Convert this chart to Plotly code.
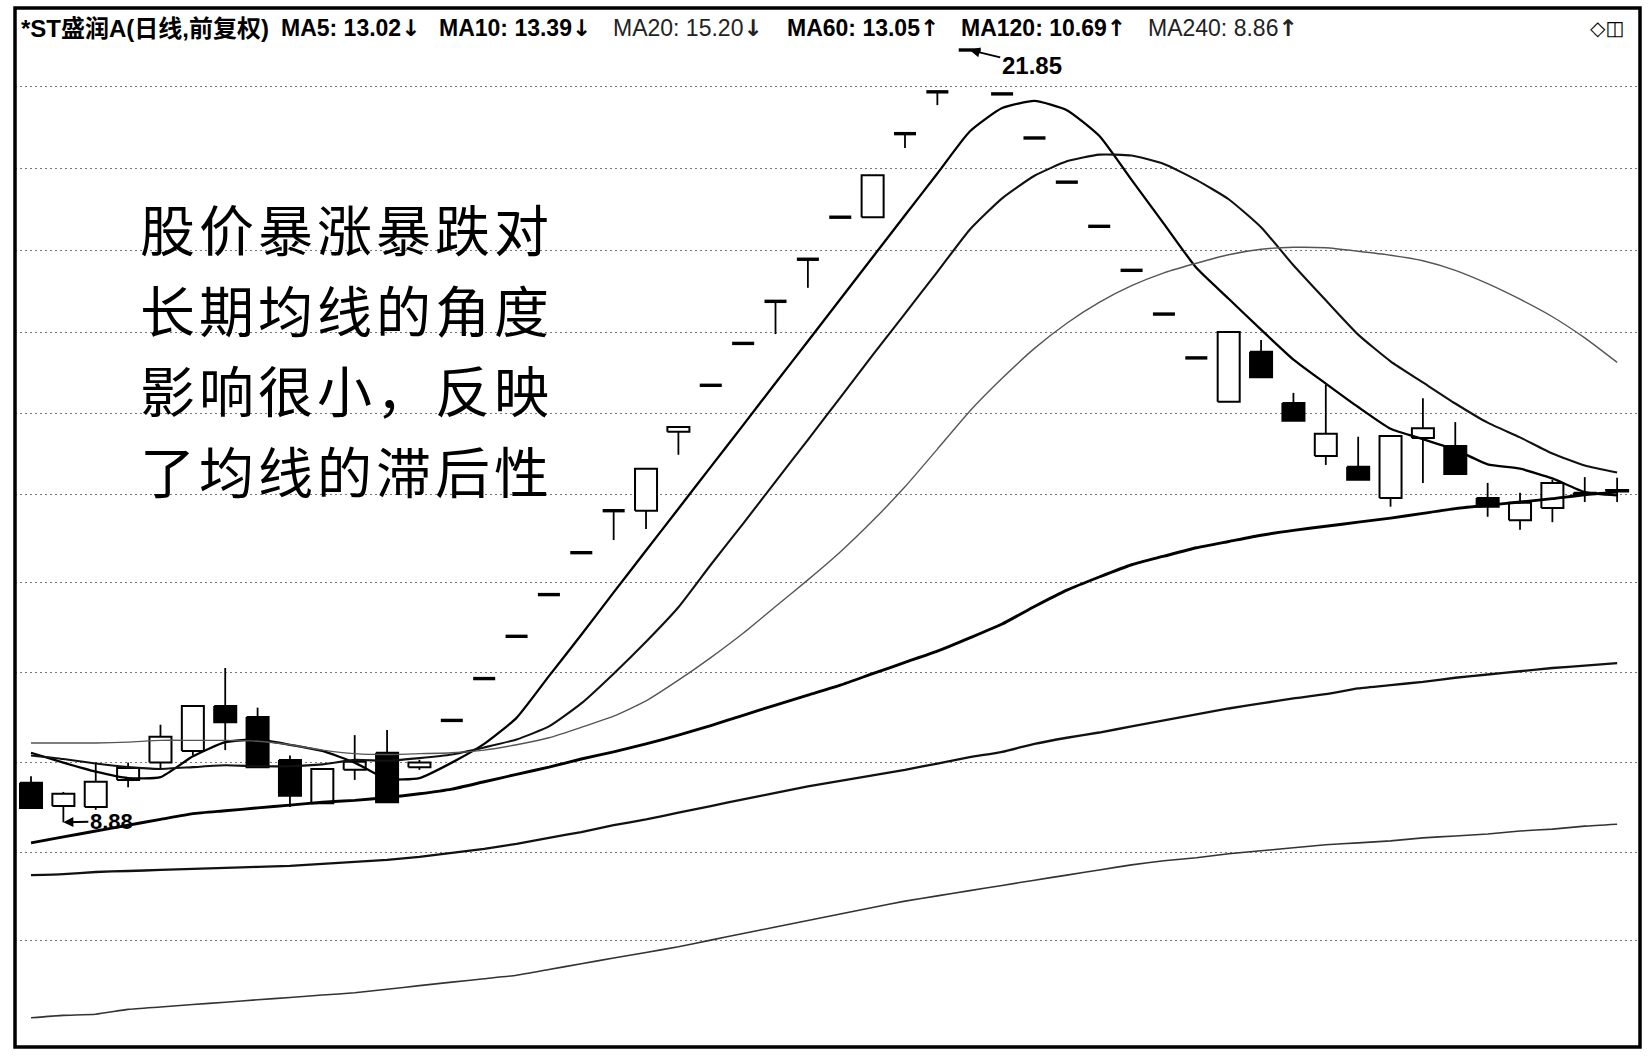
import math
import plotly.graph_objects as go

# ---------------- data ----------------
DAYS = list(range(50))

OPEN = [9.30, 9.05, 9.04, 9.33, 9.52, 9.65, 10.17, 10.04, 9.55, 9.08,
        9.44, 9.63, 9.47, 10.00, 10.50, 11.03, 11.58, 12.16, 12.77, 12.77,
        14.00, 14.78, 15.52, 16.30, 17.12, 17.98, 17.98, 19.82, 20.81, 21.85,
        20.76, 19.72, 18.73, 17.79, 16.90, 16.06, 15.26, 14.50, 15.37, 14.48,
        13.61, 13.44, 12.96, 13.90, 13.77, 12.96, 12.63, 12.81, 13.04, 13.06]
HIGH = [9.37, 9.20, 9.52, 9.52, 9.95, 10.17, 10.63, 10.15, 9.60, 9.45,
        9.83, 9.89, 9.55, 10.00, 10.50, 11.03, 11.58, 12.16, 12.77, 13.41,
        14.08, 14.78, 15.52, 16.30, 17.12, 17.98, 18.88, 19.82, 20.81, 21.85,
        20.76, 19.72, 18.73, 17.79, 16.90, 16.06, 15.26, 15.73, 15.58, 14.65,
        14.79, 13.92, 13.93, 14.56, 14.16, 13.19, 13.04, 13.24, 13.28, 13.27]
LOW = [9.02, 8.88, 9.01, 9.25, 9.46, 9.60, 9.66, 9.47, 9.04, 9.08,
       9.33, 9.09, 9.44, 10.00, 10.50, 11.03, 11.58, 12.16, 12.34, 12.50,
       13.63, 14.78, 15.52, 15.69, 16.56, 17.98, 17.98, 19.49, 20.49, 21.85,
       20.76, 19.72, 18.73, 17.79, 16.90, 16.06, 15.26, 14.50, 14.92, 14.18,
       13.47, 13.24, 12.83, 13.19, 13.33, 12.68, 12.49, 12.60, 12.90, 12.90]
CLOSE = [9.03, 9.18, 9.31, 9.46, 9.81, 10.17, 9.98, 9.47, 9.16, 9.45,
         9.53, 9.09, 9.52, 10.00, 10.50, 11.03, 11.58, 12.16, 12.77, 13.41,
         14.08, 14.78, 15.52, 16.30, 17.12, 17.98, 18.88, 19.82, 20.81, 21.85,
         20.76, 19.72, 18.73, 17.79, 16.90, 16.06, 15.26, 15.73, 14.92, 14.18,
         13.97, 13.24, 13.93, 14.06, 13.33, 12.83, 12.89, 13.19, 13.02, 13.08]

MA5 = [9.63, 9.52, 9.42, 9.35, 9.36, 9.59, 9.75, 9.78, 9.72, 9.65,
       9.52, 9.34, 9.35, 9.52, 9.73, 10.03, 10.53, 11.05, 11.61, 12.19,
       12.80, 13.44, 14.11, 14.82, 15.56, 16.34, 17.16, 18.02, 18.92, 19.87,
       20.42, 20.59, 20.37, 19.77, 18.78, 17.84, 16.95, 16.35, 15.77, 15.23,
       14.81, 14.41, 14.05, 13.88, 13.71, 13.48, 13.41, 13.26, 13.05, 13.00]
MA10 = [9.60, 9.56, 9.51, 9.47, 9.45, 9.47, 9.49, 9.48, 9.48, 9.50,
        9.55, 9.54, 9.57, 9.61, 9.69, 9.78, 9.93, 10.20, 10.56, 10.96,
        11.41, 11.99, 12.58, 13.21, 13.87, 14.57, 15.31, 16.07, 16.87, 17.72,
        18.38, 18.87, 19.19, 19.34, 19.32, 19.13, 18.78, 18.36, 17.77, 17.00,
        16.32, 15.68, 15.20, 14.83, 14.47, 14.15, 13.91, 13.65, 13.46, 13.35]
MA20 = [9.74, 9.74, 9.74, 9.75, 9.77, 9.77, 9.77, 9.76, 9.72, 9.66,
        9.62, 9.61, 9.62, 9.63, 9.66, 9.72, 9.80, 9.92, 10.05, 10.23,
        10.48, 10.76, 11.07, 11.42, 11.78, 12.17, 12.62, 13.13, 13.72, 14.34,
        14.90, 15.43, 15.89, 16.28, 16.60, 16.85, 17.04, 17.21, 17.32, 17.36,
        17.35, 17.28, 17.20, 17.09, 16.90, 16.64, 16.34, 16.01, 15.62, 15.18]
MA60 = [8.67, 8.73, 8.79, 8.85, 8.91, 8.97, 9.00, 9.03, 9.06, 9.09,
        9.11, 9.14, 9.18, 9.23, 9.31, 9.39, 9.47, 9.56, 9.64, 9.73,
        9.83, 9.94, 10.06, 10.18, 10.30, 10.42, 10.56, 10.70, 10.84, 11.01,
        11.19, 11.42, 11.64, 11.82, 11.99, 12.11, 12.23, 12.32, 12.41, 12.48,
        12.54, 12.60, 12.66, 12.73, 12.80, 12.85, 12.90, 12.95, 13.01, 13.05]
MA120 = [8.35, 8.36, 8.38, 8.39, 8.40, 8.41, 8.42, 8.43, 8.44, 8.46,
         8.48, 8.50, 8.53, 8.57, 8.61, 8.66, 8.72, 8.78, 8.85, 8.91,
         8.98, 9.05, 9.12, 9.19, 9.26, 9.32, 9.38, 9.44, 9.51, 9.58,
         9.64, 9.73, 9.80, 9.86, 9.93, 10.00, 10.07, 10.14, 10.20, 10.26,
         10.31, 10.38, 10.42, 10.46, 10.51, 10.55, 10.59, 10.63, 10.66, 10.69]
MA240 = [7.07, 7.09, 7.10, 7.14, 7.16, 7.18, 7.20, 7.22, 7.24, 7.26,
         7.28, 7.31, 7.34, 7.37, 7.40, 7.43, 7.48, 7.53, 7.58, 7.63,
         7.68, 7.74, 7.80, 7.86, 7.92, 7.98, 8.04, 8.10, 8.15, 8.20,
         8.25, 8.30, 8.35, 8.40, 8.45, 8.49, 8.52, 8.56, 8.59, 8.62,
         8.65, 8.67, 8.69, 8.72, 8.74, 8.76, 8.79, 8.81, 8.84, 8.86]

GRID_PRICES = [20.93, 19.04, 17.29, 15.71, 14.31, 13.01, 11.74, 10.57, 9.52, 8.57, 7.74]

TITLE = "*ST盛润A(日线,前复权)"
MA_NAMES = ["MA5", "MA10", "MA20", "MA60", "MA120", "MA240"]
MA_LAST = ["13.02", "13.39", "15.20", "13.05", "10.69", "8.86"]
MA_TREND = ["↓", "↓", "↓", "↑", "↑", "↑"]
ICONS = "◇◫"
NOTE_LINES = ["股价暴涨暴跌对", "长期均线的角度", "影响很小，反映", "了均线的滞后性"]
HIGH_LABEL = "21.85"
LOW_LABEL = "8.88"

# ---------------- layout constants ----------------
W, H = 1652, 1060
PL, PR, PT, PB = 15, 1640, 8, 1047          # plot frame in pixels
X0_PX, STEP_PX = 31.0, 32.37                # candle centre / spacing
ANCHOR_PRICE, ANCHOR_PX, PX_PER_DEC = 21.85, 50.0, 1975.0
HALF = 0.34                                  # half body width (in days)
NOTE_Y_PX = [227, 307.5, 388, 468.5]          # centres of the note lines

x_range = [(PL - X0_PX) / STEP_PX, (PR - X0_PX) / STEP_PX]
la = math.log10(ANCHOR_PRICE)
y_range = [la - (PB - ANCHOR_PX) / PX_PER_DEC, la + (ANCHOR_PX - PT) / PX_PER_DEC]


def px_x(p):
    return (p - PL) / (PR - PL)


def px_y(p):
    return (PB - p) / (PB - PT)


# ---------------- candle geometry from OHLC ----------------
wx, wy, ux, uy, dx, dy, fx, fy = [], [], [], [], [], [], [], []
for i, o, h, l, c in zip(DAYS, OPEN, HIGH, LOW, CLOSE):
    top, bot = max(o, c), min(o, c)
    if h > top:
        wx += [i, i, None]; wy += [top, h, None]
    if l < bot:
        wx += [i, i, None]; wy += [l, bot, None]
    if c > o:
        ux += [i - HALF, i + HALF, i + HALF, i - HALF, i - HALF, None]
        uy += [o, o, c, c, o, None]
    elif c < o:
        dx += [i - HALF, i + HALF, i + HALF, i - HALF, i - HALF, None]
        dy += [o, o, c, c, o, None]
    else:
        fx += [i - HALF, i + HALF, None]; fy += [c, c, None]

fig = go.Figure()
fig.add_trace(go.Scatter(x=wx, y=wy, mode="lines", line=dict(color="#000", width=1.8),
                         hoverinfo="skip", showlegend=False))
fig.add_trace(go.Scatter(x=ux, y=uy, mode="lines", fill="toself", fillcolor="#fff",
                         line=dict(color="#000", width=2.0), hoverinfo="skip", showlegend=False))
fig.add_trace(go.Scatter(x=dx, y=dy, mode="lines", fill="toself", fillcolor="#000",
                         line=dict(color="#000", width=2.0), hoverinfo="skip", showlegend=False))
fig.add_trace(go.Scatter(x=fx, y=fy, mode="lines", line=dict(color="#000", width=3.4),
                         hoverinfo="skip", showlegend=False))

ma_styles = [(MA5, "#000", 2.3), (MA10, "#111", 2.1), (MA20, "#555", 1.4),
             (MA60, "#000", 2.9), (MA120, "#111", 2.3), (MA240, "#333", 1.6)]
for vals, col, wd in ma_styles:
    fig.add_trace(go.Scatter(x=DAYS, y=vals, mode="lines",
                             line=dict(color=col, width=wd, shape="spline", smoothing=0.5),
                             hoverinfo="skip", showlegend=False))

ann = []
# title row
title_x = [19, 279, 437, 611, 785, 959, 1146]
ann.append(dict(x=px_x(title_x[0]), y=px_y(28), xref="paper", yref="paper", xanchor="left",
                yanchor="middle", showarrow=False, text="<b>" + TITLE + "</b>",
                font=dict(size=24, color="#000",
                          family="Liberation Sans, Arial, Noto Sans CJK SC, sans-serif")))
for k, (nm, val, tr) in enumerate(zip(MA_NAMES, MA_LAST, MA_TREND)):
    light = nm in ("MA20", "MA240")
    arrow = "<span style=\"font-family:'DejaVu Sans'\"><b>" + tr + "</b></span>"
    body = nm + ": " + val
    txt = (body if light else "<b>" + body + "</b>") + arrow
    ann.append(dict(x=px_x(title_x[k + 1]), y=px_y(28), xref="paper", yref="paper",
                    xanchor="left", yanchor="middle", showarrow=False, text=txt,
                    font=dict(size=23, color="#222" if light else "#000",
                              family="Liberation Sans, Arial, DejaVu Sans, sans-serif")))
ann.append(dict(x=px_x(1588), y=px_y(28), xref="paper", yref="paper", xanchor="left",
                yanchor="middle", showarrow=False, text=ICONS,
                font=dict(size=20, color="#000", family="DejaVu Sans, sans-serif")))

# big note: one annotation per line, sized so the line boxes do not overlap
for line, yc in zip(NOTE_LINES, NOTE_Y_PX):
    ann.append(dict(x=px_x(139), y=px_y(yc), xref="paper", yref="paper",
                    xanchor="left", yanchor="middle", align="left", showarrow=False,
                    text="<span style=\"letter-spacing:4px\">" + line + "</span>", borderpad=0,
                    font=dict(size=55, color="#000", family="Noto Sans CJK SC, sans-serif")))

# extreme markers
hi_i = HIGH.index(max(HIGH))
lo_i = LOW.index(min(LOW))
ann.append(dict(x=hi_i, y=math.log10(HIGH[hi_i]), xref="x", yref="y", text="<b>" + HIGH_LABEL + "</b>",
                showarrow=True, arrowhead=2, arrowsize=1, arrowwidth=2, arrowcolor="#000",
                ax=62, ay=15, font=dict(size=24, color="#000", family="Liberation Sans, Arial, sans-serif")))
ann.append(dict(x=lo_i, y=math.log10(LOW[lo_i]), xref="x", yref="y", text="<b>" + LOW_LABEL + "</b>",
                showarrow=True, arrowhead=2, arrowsize=1, arrowwidth=2, arrowcolor="#000",
                ax=48, ay=-1, font=dict(size=22, color="#000", family="Liberation Sans, Arial, sans-serif")))

shapes = [
    dict(type="rect", xref="paper", yref="paper", x0=px_x(133), x1=px_x(583),
         y0=px_y(505), y1=px_y(190), fillcolor="#fff", line=dict(width=0), layer="below"),
    dict(type="rect", xref="paper", yref="paper", x0=0, x1=1, y0=0, y1=1,
         line=dict(color="#000", width=3.5), layer="above"),
]

fig.update_layout(
    width=W, height=H, autosize=False,
    margin=dict(l=PL, r=W - PR, t=PT, b=H - PB, pad=0),
    paper_bgcolor="#fff", plot_bgcolor="#fff", template="none",
    showlegend=False, hovermode=False,
    annotations=ann, shapes=shapes,
    xaxis=dict(range=x_range, showgrid=False, zeroline=False, showticklabels=False,
               ticks="", showline=False, fixedrange=True, automargin=False),
    yaxis=dict(type="log", range=y_range, tickvals=GRID_PRICES, showgrid=True,
               gridcolor="#777", gridwidth=1, griddash="2px,3px", zeroline=False,
               showticklabels=False, ticks="", showline=False, fixedrange=True, automargin=False),
)

fig.write_html("out.html", config={"displayModeBar": False, "staticPlot": True},
               post_script="document.body.style.margin='0px';document.body.style.overflow='hidden';")
